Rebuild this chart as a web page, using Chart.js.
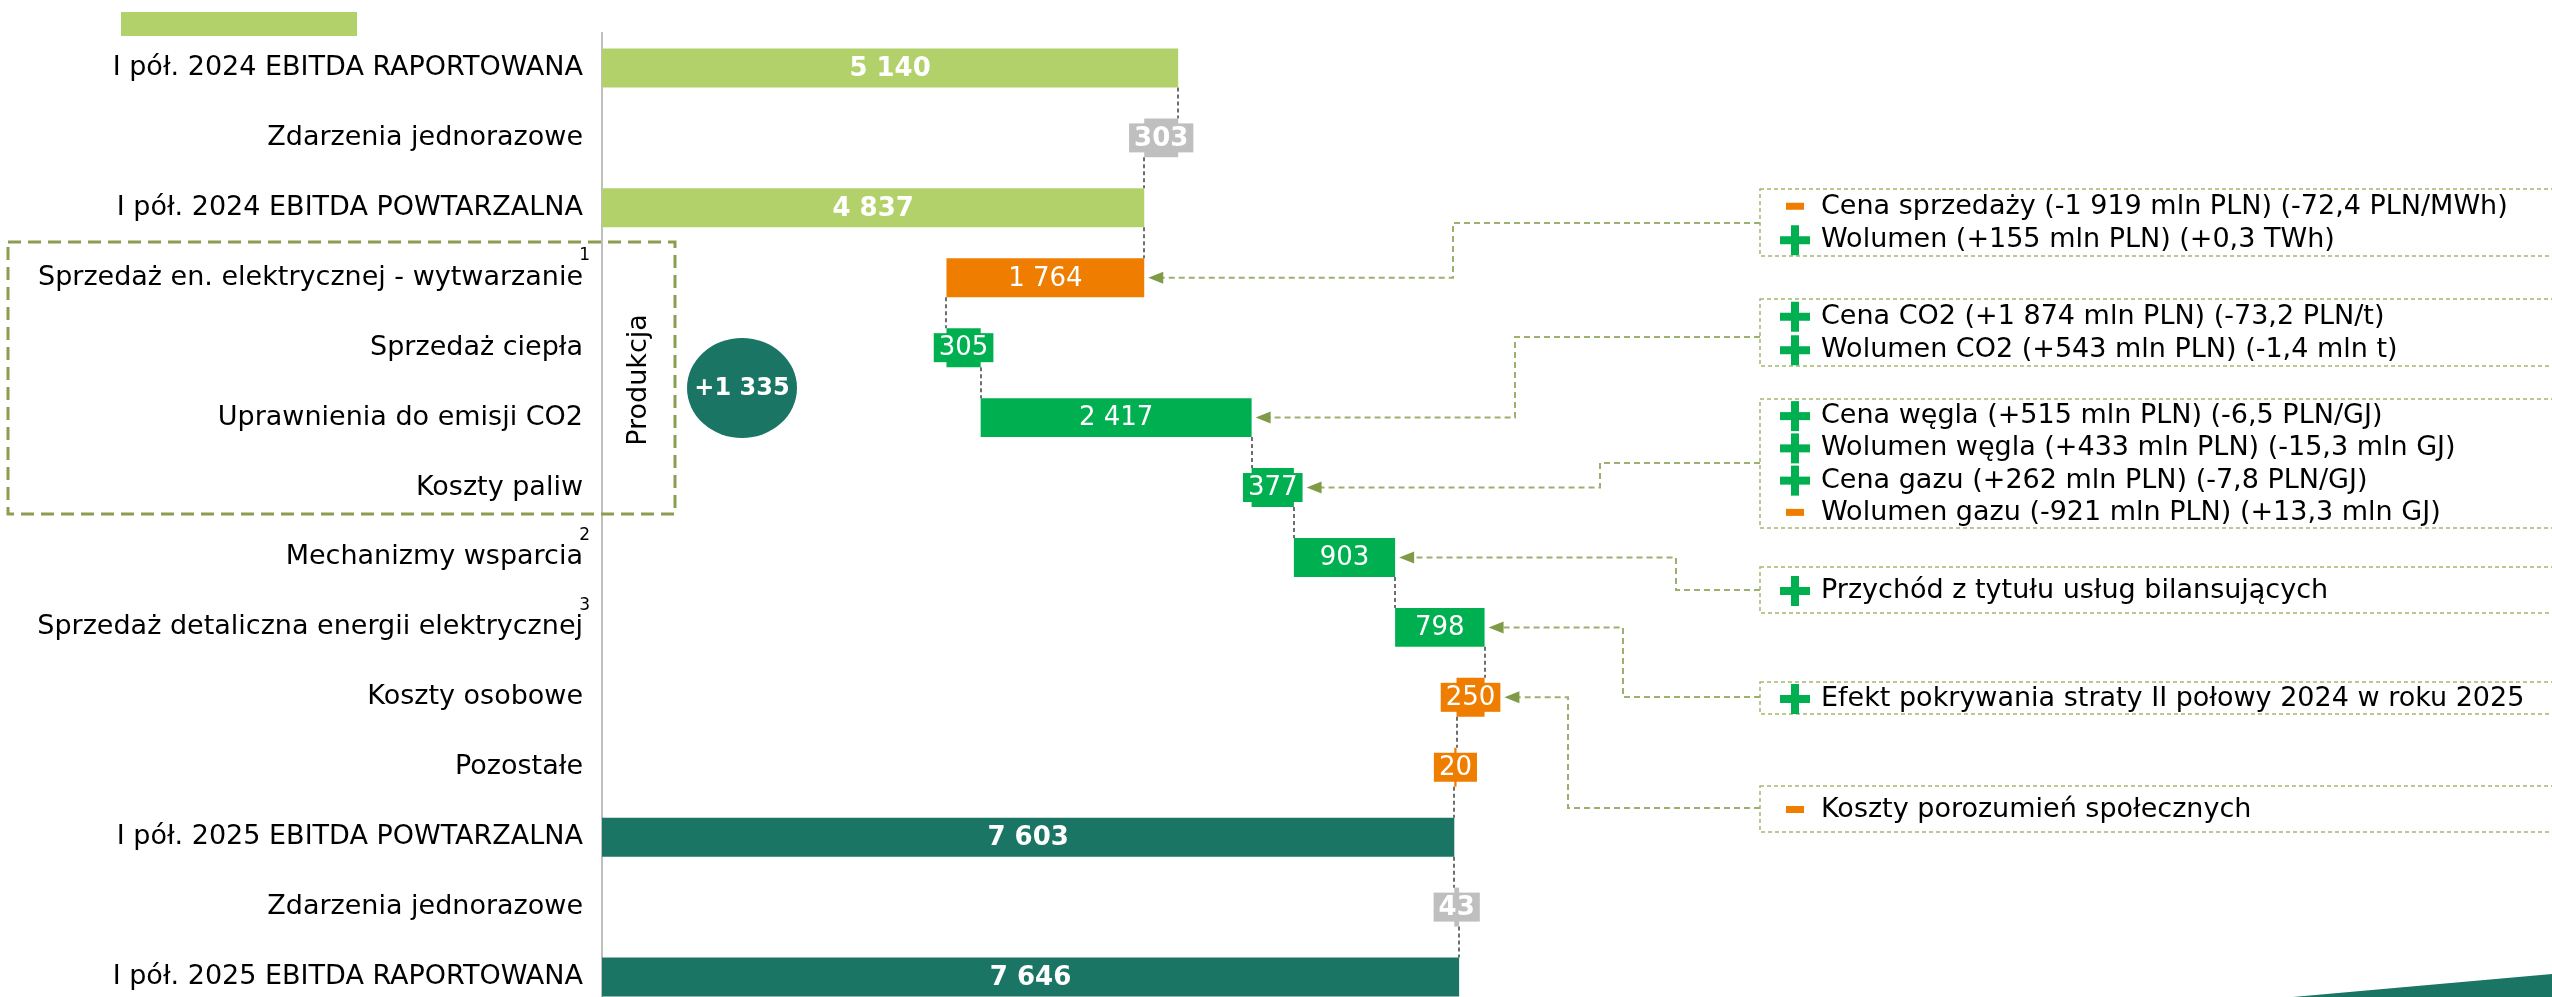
<!DOCTYPE html>
<html>
<head>
<meta charset="utf-8">
<script src="https://cdn.jsdelivr.net/npm/chart.js@4.4.1/dist/chart.umd.min.js"></script>
<style>
  html, body { margin: 0; padding: 0; background: #fff; overflow: hidden; }
  canvas { display: block; }
</style>
</head>
<body>
<canvas id="ebitda" width="2552" height="1012"></canvas>
<script>
// bridge rows, top to bottom
const categories = [
  'I pół. 2024 EBITDA RAPORTOWANA',
  'Zdarzenia jednorazowe',
  'I pół. 2024 EBITDA POWTARZALNA',
  'Sprzedaż en. elektrycznej - wytwarzanie',
  'Sprzedaż ciepła',
  'Uprawnienia do emisji CO2',
  'Koszty paliw',
  'Mechanizmy wsparcia',
  'Sprzedaż detaliczna energii elektrycznej',
  'Koszty osobowe',
  'Pozostałe',
  'I pół. 2025 EBITDA POWTARZALNA',
  'Zdarzenia jednorazowe',
  'I pół. 2025 EBITDA RAPORTOWANA'
];
// totals are absolute levels, the rest are steps (mln PLN)
const kinds = ['total24', 'oneoff', 'total24', 'delta', 'delta', 'delta', 'delta',
               'delta', 'delta', 'delta', 'delta', 'total25', 'oneoff', 'total25'];
const values = [5140, -303, 4837, -1764, 305, 2417, 377, 903, 798, -250, -20, 7603, 43, 7646];
const footnotes = ['', '', '', '1', '', '', '', '2', '3', '', '', '', '', ''];
const productionRows = [3, 4, 5, 6];
const groupLabel = 'Produkcja';

// comment boxes on the right
const noteTexts = [
  ['Cena sprzedaży (-1 919 mln PLN) (-72,4 PLN/MWh)', 'Wolumen (+155 mln PLN) (+0,3 TWh)'],
  ['Cena CO2 (+1 874 mln PLN) (-73,2 PLN/t)', 'Wolumen CO2 (+543 mln PLN) (-1,4 mln t)'],
  ['Cena węgla (+515 mln PLN) (-6,5 PLN/GJ)', 'Wolumen węgla (+433 mln PLN) (-15,3 mln GJ)',
   'Cena gazu (+262 mln PLN) (-7,8 PLN/GJ)', 'Wolumen gazu (-921 mln PLN) (+13,3 mln GJ)'],
  ['Przychód z tytułu usług bilansujących'],
  ['Efekt pokrywania straty II połowy 2024 w roku 2025'],
  ['Koszty porozumień społecznych']
];
const noteSigns = [['-', '+'], ['+', '+'], ['+', '+', '+', '-'], ['+'], ['+'], ['-']];
const noteRows = [3, 5, 6, 7, 8, 9];

const palette = {
  total24: '#B3D16A',
  total25: '#1B7565',
  oneoff: '#BFBFBF',
  up: '#00B050',
  down: '#EF7D00'
};

function barColor(i) {
  if (kinds[i] === 'delta') return values[i] >= 0 ? palette.up : palette.down;
  return palette[kinds[i]];
}

function fmt(n) {
  return String(n).replace(/\B(?=(\d{3})+(?!\d))/g, ' ');
}

// floating ranges for the waterfall
var running = 0;
const ranges = [];
const cumul = [];
values.forEach((v, i) => {
  if (kinds[i].startsWith('total')) {
    ranges.push([0, v]);
    running = v;
  } else {
    ranges.push([running, running + v]);
    running += v;
  }
  cumul.push(running);
});

const FONT = '"DejaVu Sans", Verdana, sans-serif';

// layout of the comment boxes (canvas px)
const noteLayout = [
  { top: 189, bottom: 256, link: 223, elbow: 1453 },
  { top: 299, bottom: 366, link: 337, elbow: 1515 },
  { top: 399, bottom: 528, link: 463, elbow: 1600 },
  { top: 567, bottom: 613, link: 590, elbow: 1676 },
  { top: 682, bottom: 714, link: 697, elbow: 1623 },
  { top: 786, bottom: 832, link: 808, elbow: 1568 }
];

const decor = {
  id: 'decor',
  beforeDatasetsDraw(chart) {
    const ctx = chart.ctx;
    const x = chart.scales.x;
    const bars = chart.getDatasetMeta(0).data;
    ctx.save();
    ctx.strokeStyle = '#6E6E6E';
    ctx.lineWidth = 2;
    ctx.setLineDash([4, 3]);
    for (var i = 0; i < bars.length - 1; i++) {
      const px = Math.round(x.getPixelForValue(cumul[i]));
      ctx.beginPath();
      ctx.moveTo(px, bars[i].y + bars[i].height / 2);
      ctx.lineTo(px, bars[i + 1].y - bars[i + 1].height / 2);
      ctx.stroke();
    }
    ctx.restore();
  },
  afterDatasetsDraw(chart) {
    const ctx = chart.ctx;
    const bars = chart.getDatasetMeta(0).data;
    const rightEdges = [];
    ctx.save();

    // value labels, boxed when the bar is too short
    ctx.textAlign = 'center';
    ctx.textBaseline = 'middle';
    bars.forEach((b, i) => {
      const left = Math.min(b.x, b.base), right = Math.max(b.x, b.base);
      const cx = (left + right) / 2;
      ctx.font = (kinds[i] === 'delta' ? '' : 'bold ') + '26px ' + FONT;
      const txt = fmt(Math.abs(values[i]));
      const tw = ctx.measureText(txt).width;
      var edge = right;
      if (tw + 8 > right - left) {
        const bw = tw + 10;
        ctx.fillStyle = barColor(i);
        ctx.fillRect(cx - bw / 2, b.y - 14.5, bw, 29);
        edge = Math.max(right, cx + bw / 2);
      }
      rightEdges.push(edge);
      ctx.fillStyle = '#fff';
      ctx.fillText(txt, cx, b.y + 1);
    });

    // footnote marks next to the axis labels
    ctx.fillStyle = '#000';
    ctx.font = '17px ' + FONT;
    ctx.textAlign = 'right';
    footnotes.forEach((f, i) => {
      if (f) ctx.fillText(f, 590, bars[i].y - 22);
    });

    // legend swatch
    ctx.fillStyle = palette.total24;
    ctx.fillRect(121, 12, 236, 24);

    // production group
    ctx.strokeStyle = '#8B9D4F';
    ctx.lineWidth = 3;
    ctx.setLineDash([13, 7]);
    ctx.strokeRect(8, 242, 667, 272);
    ctx.setLineDash([]);
    ctx.save();
    ctx.translate(639, 380);
    ctx.rotate(-Math.PI / 2);
    ctx.fillStyle = '#000';
    ctx.font = '27px ' + FONT;
    ctx.textAlign = 'center';
    ctx.fillText(groupLabel, 0, 0);
    ctx.restore();

    const prodSum = productionRows.reduce((s, r) => s + values[r], 0);
    ctx.fillStyle = palette.total25;
    ctx.beginPath();
    ctx.ellipse(742, 388, 55, 50, 0, 0, Math.PI * 2);
    ctx.fill();
    ctx.fillStyle = '#fff';
    ctx.font = 'bold 24px ' + FONT;
    ctx.textAlign = 'center';
    ctx.fillText((prodSum >= 0 ? '+' : '-') + fmt(Math.abs(prodSum)), 742, 389);

    // comment boxes with elbow arrows
    noteLayout.forEach((L, k) => {
      const h = L.bottom - L.top;
      ctx.strokeStyle = '#A5B86E';
      ctx.lineWidth = 1.5;
      ctx.setLineDash([4, 3]);
      ctx.strokeRect(1760, L.top, 900, h);

      const row = noteRows[k];
      const rowY = bars[row].y;
      const tip = rightEdges[row] + 4;
      ctx.strokeStyle = '#9CB070';
      ctx.lineWidth = 2;
      ctx.setLineDash([6, 4]);
      ctx.beginPath();
      ctx.moveTo(1760, L.link);
      ctx.lineTo(L.elbow, L.link);
      ctx.lineTo(L.elbow, rowY);
      ctx.lineTo(tip + 14, rowY);
      ctx.stroke();
      ctx.setLineDash([]);
      ctx.fillStyle = '#809B48';
      ctx.beginPath();
      ctx.moveTo(tip, rowY);
      ctx.lineTo(tip + 15, rowY - 6);
      ctx.lineTo(tip + 15, rowY + 6);
      ctx.closePath();
      ctx.fill();

      const lines = noteTexts[k];
      lines.forEach((t, j) => {
        const ly = L.top + (j + 0.5) * h / lines.length + 1;
        if (noteSigns[k][j] === '+') {
          ctx.fillStyle = palette.up;
          ctx.fillRect(1780, ly - 4, 30, 8);
          ctx.fillRect(1791, ly - 15, 8, 30);
        } else {
          ctx.fillStyle = palette.down;
          ctx.fillRect(1786, ly - 4, 18, 7);
        }
        ctx.fillStyle = '#000';
        ctx.font = '27px ' + FONT;
        ctx.textAlign = 'left';
        ctx.fillText(t, 1821, ly);
      });
    });

    // corner wedge
    ctx.fillStyle = palette.total25;
    ctx.beginPath();
    ctx.moveTo(2293, 997);
    ctx.lineTo(2552, 974);
    ctx.lineTo(2552, 1012);
    ctx.lineTo(2293, 1012);
    ctx.closePath();
    ctx.fill();

    ctx.restore();
  }
};

var ebitdaChart = new Chart(document.getElementById('ebitda').getContext('2d'), {
  type: 'bar',
  data: {
    labels: categories,
    datasets: [{
      data: ranges,
      backgroundColor: categories.map((c, i) => barColor(i)),
      barPercentage: 0.557,
      categoryPercentage: 1
    }]
  },
  options: {
    indexAxis: 'y',
    responsive: false,
    animation: false,
    devicePixelRatio: 1,
    layout: { padding: { top: 33, right: 829, bottom: 0, left: 0 } },
    plugins: {
      legend: { display: false },
      tooltip: { enabled: false }
    },
    scales: {
      x: { display: false, min: 0, max: 10000 },
      y: {
        grid: { display: false, drawTicks: false },
        border: { display: true, color: '#BFBFBF', width: 2 },
        ticks: {
          color: '#000',
          font: { family: FONT, size: 27 },
          padding: 19,
          autoSkip: false
        },
        afterFit: s => { s.width = 602; s.paddingTop = 0; s.paddingBottom = 0; }
      }
    }
  },
  plugins: [decor]
});
</script>
</body>
</html>
